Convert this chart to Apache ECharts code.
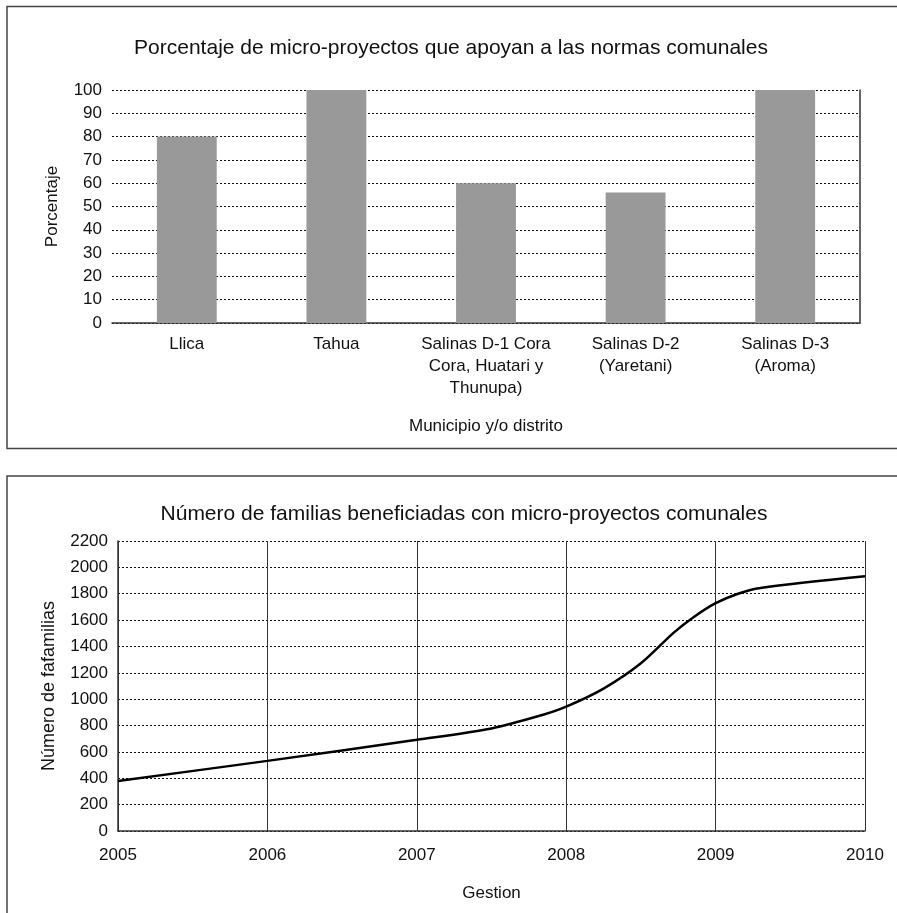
<!DOCTYPE html>
<html>
<head>
<meta charset="utf-8">
<script src="https://cdn.jsdelivr.net/npm/echarts@6/dist/echarts.min.js"></script>
<style>
  html, body { margin: 0; padding: 0; background: #fff; }
  #chart { width: 897px; height: 913px; }
</style>
</head>
<body>
<div id="chart"></div>
<script>
// Bar chart: share of micro-projects supporting communal norms
const municipios = [
  'Llica',
  'Tahua',
  'Salinas D-1 Cora\nCora, Huatari y\nThunupa)',
  'Salinas D-2\n(Yaretani)',
  'Salinas D-3\n(Aroma)'
];
const porcentajes = [80, 100, 60, 56, 100];

// Line chart: families benefited over time
const gestionYears = [2005, 2006, 2007, 2007.5, 2007.84, 2008, 2008.25, 2008.5, 2008.72, 2008.85, 2009, 2009.15, 2009.3, 2010];
const familias = [380, 532, 692, 778, 880, 943, 1080, 1272, 1505, 1620, 1728, 1800, 1844, 1932];

const FONT = "'Liberation Sans', Arial, sans-serif";
const txt = { color: '#111', fontFamily: FONT };

const chart = echarts.init(document.getElementById('chart'), null, { renderer: 'canvas' });

const plain = v => String(v);

chart.setOption({
  backgroundColor: '#fff',
  animation: false,
  graphic: [
    { type: 'rect', shape: { x: 7, y: 6.5, width: 960, height: 442 },
      style: { fill: 'none', stroke: '#444', lineWidth: 1.5 }, silent: true, z: -10 },
    { type: 'rect', shape: { x: 7, y: 476, width: 960, height: 520 },
      style: { fill: 'none', stroke: '#444', lineWidth: 1.5 }, silent: true, z: -10 }
  ],
  title: [
    { text: 'Porcentaje de micro-proyectos que apoyan a las normas comunales',
      left: 446, top: 33, textAlign: 'center',
      textStyle: Object.assign({ fontSize: 21, fontWeight: 'normal' }, txt) },
    { text: 'Número de familias beneficiadas con micro-proyectos comunales',
      left: 459, top: 499, textAlign: 'center',
      textStyle: Object.assign({ fontSize: 21, fontWeight: 'normal' }, txt) }
  ],
  grid: [
    { left: 112, right: 37, top: 90, height: 233 },
    { left: 118, right: 32, top: 541, height: 290 }
  ],
  xAxis: [
    {
      gridIndex: 0, type: 'category', data: municipios,
      name: 'Municipio y/o distrito', nameLocation: 'middle', nameGap: 95,
      nameTextStyle: Object.assign({ fontSize: 17 }, txt),
      axisLine: { lineStyle: { color: '#333', width: 1.5 } },
      axisTick: { show: false },
      axisLabel: Object.assign({ fontSize: 17, margin: 10, lineHeight: 22, interval: 0 }, txt)
    },
    {
      gridIndex: 1, type: 'value', min: 2005, max: 2010, interval: 1,
      name: 'Gestion', nameLocation: 'middle', nameGap: 54,
      nameTextStyle: Object.assign({ fontSize: 17 }, txt),
      axisLine: { lineStyle: { color: '#333', width: 1.5 } },
      axisTick: { show: false },
      axisLabel: Object.assign({ fontSize: 17, margin: 16, formatter: plain }, txt),
      splitLine: { show: true, lineStyle: { color: '#333', width: 1 } }
    }
  ],
  yAxis: [
    {
      gridIndex: 0, type: 'value', min: 0, max: 100, interval: 10,
      name: 'Porcentaje', nameLocation: 'middle', nameGap: 51, nameRotate: 90,
      nameTextStyle: Object.assign({ fontSize: 17 }, txt),
      axisLine: { show: false },
      axisTick: { show: false },
      axisLabel: Object.assign({ fontSize: 17, margin: 10 }, txt),
      splitLine: { show: true, lineStyle: { color: '#111', width: 1, type: [2, 2] } }
    },
    {
      gridIndex: 0, type: 'value', min: 0, max: 100, position: 'right',
      axisLine: { show: true, lineStyle: { color: '#333', width: 1.5 } },
      axisTick: { show: false }, axisLabel: { show: false }, splitLine: { show: false }
    },
    {
      gridIndex: 1, type: 'value', min: 0, max: 2200, interval: 200,
      name: 'Número de fafamilias', nameLocation: 'middle', nameGap: 60, nameRotate: 90,
      nameTextStyle: Object.assign({ fontSize: 18 }, txt),
      axisLine: { show: true, lineStyle: { color: '#333', width: 1.5 } },
      axisTick: { show: false },
      axisLabel: Object.assign({ fontSize: 17, margin: 10, formatter: plain }, txt),
      splitLine: { show: true, lineStyle: { color: '#111', width: 1, type: [2, 2] } }
    }
  ],
  series: [
    {
      type: 'bar', xAxisIndex: 0, yAxisIndex: 0, data: porcentajes,
      barWidth: '40%', itemStyle: { color: '#999999' }, z: 3
    },
    {
      type: 'line', xAxisIndex: 1, yAxisIndex: 2,
      data: gestionYears.map((y, i) => [y, familias[i]]),
      smooth: 0.3, showSymbol: false,
      lineStyle: { color: '#000', width: 2.5 }, z: 4
    }
  ]
});
</script>
</body>
</html>
